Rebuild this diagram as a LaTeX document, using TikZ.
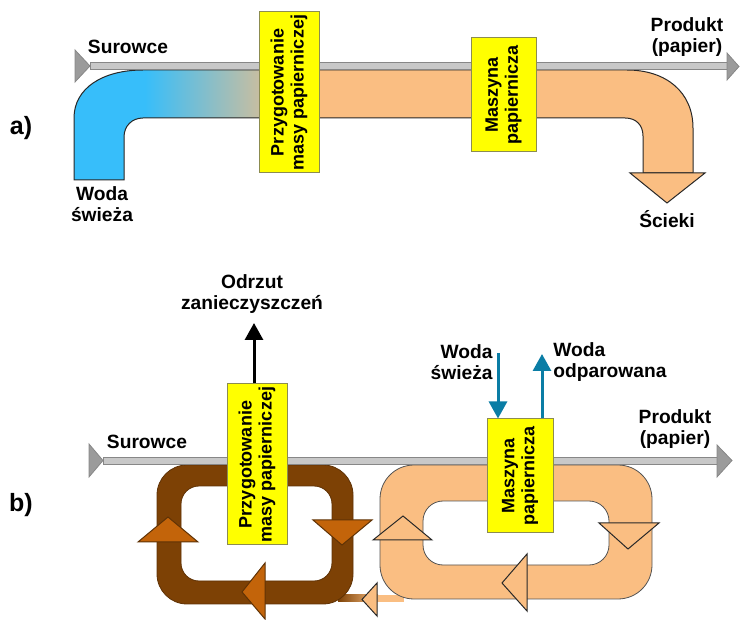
\documentclass[tikz,border=0pt]{standalone}
\usepackage{fontspec}
\setmainfont{Liberation Sans}
\usetikzlibrary{arrows.meta,calc}

\definecolor{pipeorange}{RGB}{250,190,130}
\definecolor{pipeblue}{RGB}{55,190,250}
\definecolor{barfill}{RGB}{200,200,200}
\definecolor{baredge}{RGB}{135,135,135}
\definecolor{headgray}{RGB}{155,155,155}
\definecolor{boxyellow}{RGB}{255,255,0}
\definecolor{boxedge}{RGB}{140,140,80}
\definecolor{loopbrown}{RGB}{125,65,5}
\definecolor{loopedge}{RGB}{95,50,5}
\definecolor{tipbrown}{RGB}{195,100,10}
\definecolor{flowblue}{RGB}{10,125,165}
\definecolor{outline}{RGB}{40,40,40}

% outline of the fresh water / waste water pipe in part a)
\newcommand\openpipe{(74,180) -- (74,118) .. controls (74,88) and (103,70) .. (143,70)
  -- (627,70) .. controls (666,70) and (693,92) .. (693,128) -- (693,173) -- (643,173)
  -- (643,136) .. controls (643,125) and (636,118) .. (625,118) -- (143,118)
  .. controls (132,118) and (124,126) .. (124,137) -- (124,180) -- cycle}

\begin{document}
\begin{tikzpicture}[x=0.5pt,y=-0.5pt,
  lbl/.style={font=\fontsize{9.6}{10.5}\selectfont\bfseries, align=center, inner sep=0pt},
  part/.style={font=\fontsize{12.5}{14}\selectfont\bfseries, inner sep=0pt},
  unit/.style={draw=boxedge, fill=boxyellow, line width=0.5pt, rotate=90,
    font=\fontsize{9}{10}\selectfont\bfseries, align=center, inner sep=0pt},
  bar/.style={fill=barfill, draw=baredge, line width=0.4pt},
  barend/.style={fill=headgray, draw=baredge, line width=0.4pt},
  tipdark/.style={fill=tipbrown, draw=loopedge, line width=0.5pt},
  tiplight/.style={fill=pipeorange, draw=outline, line width=0.5pt},
  flow/.style={draw=flowblue, line width=1.5pt, -{Triangle[length=8.5pt,width=9pt]}},
  reject/.style={draw=black, line width=1.5pt, -{Triangle[length=8.5pt,width=9pt]}}]

\useasboundingbox (0,0) rectangle (740,620);

% ---------------- a) open water circuit ----------------
\node[part] (la) at (21,128) {a)};

\begin{scope}
  \clip \openpipe;
  \fill[pipeorange] (60,60) rectangle (710,185);
  \fill[pipeblue] (60,60) rectangle (146,185);
  \shade[left color=pipeblue, right color=pipeorange] (145,60) rectangle (300,185);
\end{scope}
\draw[outline, line width=0.5pt] \openpipe;
\filldraw[tiplight] (630,173) -- (705,173) -- (667,203) -- cycle;

\fill[bar] (90,62.5) rectangle (727,69.5);
\filldraw[barend] (75,50) -- (90,66) -- (75,82) -- cycle;
\filldraw[barend] (727,53) -- (739,66.5) -- (727,80) -- cycle;

\node[unit, minimum width=80.5pt, minimum height=30pt] (prepA) at (289,92.5)
  {Przygotowanie\\masy papierniczej};
\node[unit, minimum width=57pt, minimum height=32.5pt] (machA) at (503.5,95)
  {Maszyna\\papiernicza};

\node[lbl] (rawA) at (128,47) {Surowce};
\node[lbl] (freshA) at (102,204) {Woda\\świeża};
\node[lbl] (prodA) at (687,37) {Produkt\\(papier)};
\node[lbl] (wasteA) at (667,219) {Ścieki};

% ---------------- b) closed water circuits ----------------
\node[part] (lb) at (21,505) {b)};

% return flow from the machine loop to the stock preparation loop
\shade[left color=loopbrown, right color=pipeorange] (338,595) rectangle (378,602);
\fill[pipeorange] (377,595) rectangle (404,602);

% stock preparation loop
\filldraw[fill=loopbrown, draw=loopedge, line width=0.4pt, even odd rule]
  [rounded corners=15pt] (157,465) rectangle (353,604)
  [rounded corners=9pt] (181,486) rectangle (332,581);
% paper machine loop
\filldraw[fill=pipeorange, draw=outline!80, line width=0.4pt, even odd rule]
  [rounded corners=17pt] (380,465) rectangle (652,599)
  [rounded corners=10pt] (423,501) rectangle (609,565);

\filldraw[tiplight] (377,583) -- (377,616) -- (362,599.5) -- cycle;

% direction marks on the loops
\filldraw[tipdark] (138,542) -- (198,542) -- (168,517) -- cycle;
\filldraw[tipdark] (313,520) -- (372,520) -- (342,545) -- cycle;
\filldraw[tipdark] (265,563) -- (265,619) -- (242,592) -- cycle;
\filldraw[tiplight] (373,540) -- (432,540) -- (403,516) -- cycle;
\filldraw[tiplight] (599,523) -- (659,523) -- (628,549) -- cycle;
\filldraw[tiplight] (527,554) -- (527,611) -- (502,583) -- cycle;

\fill[bar] (103,457) rectangle (717,464);
\filldraw[barend] (89,444) -- (103,460.5) -- (89,477) -- cycle;
\filldraw[barend] (717,445) -- (732,460.5) -- (717,477) -- cycle;

\node[unit, minimum width=80.5pt, minimum height=30pt] (prepB) at (257,464.5)
  {Przygotowanie\\masy papierniczej};
\node[unit, minimum width=57pt, minimum height=33pt] (machB) at (520,476)
  {Maszyna\\papiernicza};

\coordinate (rejTop) at (254,323);
\coordinate (inTop) at (498,353);
\coordinate (outTop) at (542,354);
\draw[reject] (rejTop |- prepB.east) -- (rejTop);
\draw[flow] (inTop) -- (inTop |- machB.east);
\draw[flow] (outTop |- machB.east) -- (outTop);

\node[lbl] (rawB) at (147,442) {Surowce};
\node[lbl] (rejB) at (252,294) {Odrzut\\zanieczyszczeń};
\node[lbl, align=right, anchor=east] (freshB) at (493,362) {Woda\\świeża};
\node[lbl, align=left, anchor=west] (evapB) at (553,362) {Woda\\odparowana};
\node[lbl] (prodB) at (675,429) {Produkt\\(papier)};
\end{tikzpicture}
\end{document}
